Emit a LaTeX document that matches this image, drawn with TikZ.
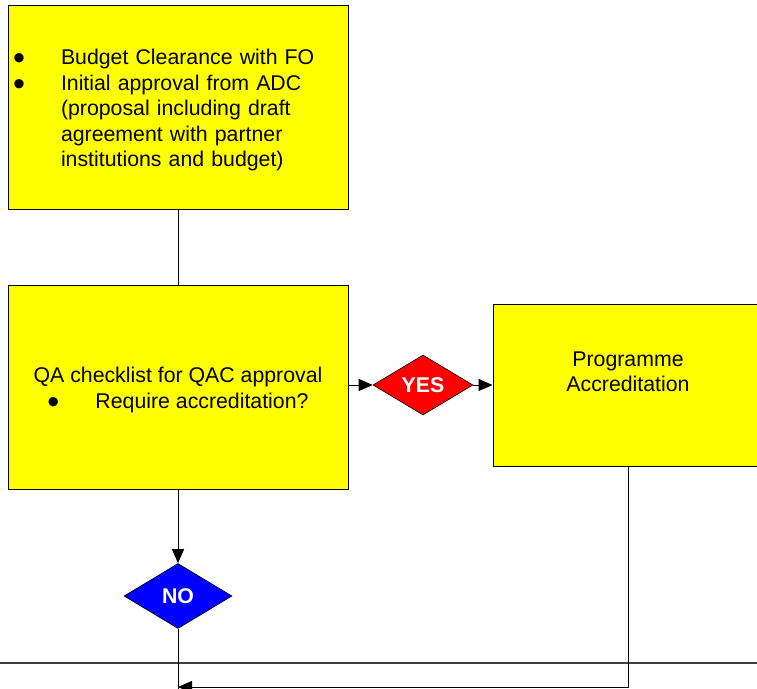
\documentclass[tikz,border=0pt]{standalone}
\usepackage{graphicx}
\usepackage{fontspec}
\setmainfont{Liberation Sans}
\usetikzlibrary{shapes.geometric,arrows.meta}
\definecolor{boxyellow}{RGB}{255,255,0}
\definecolor{yesred}{RGB}{255,0,0}
\definecolor{noblue}{RGB}{0,0,255}
\newcommand{\bulitem}{\makebox[48pt][l]{\smash{\raisebox{-5pt}{\scalebox{1.6}{\textbullet}}}}}
\newcommand{\bulgap}{\hspace*{48pt}}
\begin{document}
\begin{tikzpicture}[x=1pt, y=-1pt,%
% common options for the yellow boxes:
box/.style = {draw, fill=boxyellow, line width=1pt, inner sep=0,
            minimum width=340pt, minimum height=204pt},
% common options for the box texts:
boxtext/.style = {inner sep=0, font=\fontsize{21.3pt}{25.5pt}\selectfont},
% common options for the decisions:
decision/.style = {diamond, draw, line width=0.6pt, inner sep=0, text=white,
            font=\fontsize{21.3pt}{25.5pt}\selectfont\bfseries},
% common options for the connectors:
arr/.style = {-{Triangle[length=14pt,width=12pt]}, line width=1pt}]
\useasboundingbox (0,0) rectangle (757,688);
\node[box, label={[boxtext, yshift=-3pt, text width=330pt, align=left]center:%
    \bulitem Budget Clearance with FO\\
    \bulitem Initial approval from ADC\\
    \bulgap (proposal including draft\\
    \bulgap agreement with partner\\
    \bulgap institutions and budget)}] (budget) at (178,107) {};
\node[box, label={[boxtext, yshift=-3pt, align=center]center:%
    QA checklist for QAC approval\\
    \bulitem Require accreditation?}] (qacheck) at (178,387) {};
\node[box, minimum width=270pt, minimum height=162pt,
   label={[boxtext, yshift=13pt, align=center]center:Programme\\Accreditation}]
   (progacc) at (628,385) {};
\node[decision, fill=yesred, minimum width=100pt, minimum height=60pt] (yes) at (423,385) {YES};
\node[decision, fill=noblue, minimum width=108pt, minimum height=65pt] (no) at (178,596) {NO};
\coordinate (laneL) at (0,663);
\coordinate (laneR) at (757,663);
\coordinate (join) at (178,687);
\coordinate (nobottom) at (178,700);
\draw[line width=1.5pt, black!75] (laneL) -- (laneR);
\draw[line width=1pt] (budget.south) -- (qacheck.north);
\draw[arr] (qacheck.east |- yes.west) -- (yes.west);
\draw[arr] (yes.east) -- (progacc.west);
\draw[arr] (qacheck.south) -- (no.north);
\draw[line width=1pt] (no.south) -- (nobottom);
\draw[arr] (progacc.south) |- (join);
\end{tikzpicture}
\end{document}
